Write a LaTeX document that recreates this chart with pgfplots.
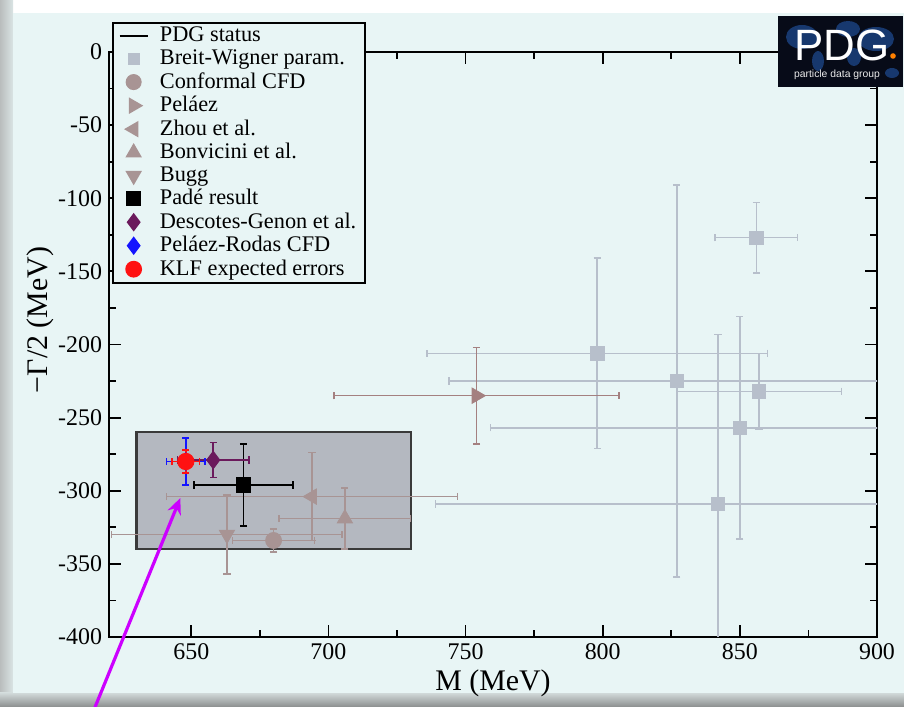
\documentclass[border=0pt]{standalone}
\usepackage{fontspec}
\setmainfont{Liberation Serif}
\newfontfamily\logofont{Liberation Sans}
\usepackage{pgfplots}
\pgfplotsset{compat=1.18}
\usetikzlibrary{arrows.meta}

\definecolor{panel}{HTML}{E8F5F5}
\definecolor{edgegray}{HTML}{B9BDBD}
\definecolor{bwgray}{HTML}{B7BFCB}
\definecolor{mauve}{HTML}{A89494}
\definecolor{rose}{HTML}{A48080}
\definecolor{boxfill}{HTML}{B4B8C0}
\definecolor{boxedge}{HTML}{3A3A3A}
\definecolor{dgpurple}{HTML}{6B1A5C}
\definecolor{prblue}{HTML}{1414FF}
\definecolor{klfred}{HTML}{FF1212}
\definecolor{arrowmag}{HTML}{CC00FF}
\definecolor{logobg}{HTML}{070B18}
\definecolor{logomap}{HTML}{17386E}

\pgfplotsset{
  errpt/.style={only marks, color=#1,
    error bars/x dir=both, error bars/x explicit,
    error bars/y dir=both, error bars/y explicit,
    error bars/error bar style={line width=0.75bp, color=#1},
    error bars/error mark options={rotate=90, line width=0.75bp, mark size=1.8bp, color=#1}},
  mkleg/.style={legend image code/.code={%
    \draw[mark repeat=2, mark phase=2, ##1] plot coordinates {(0bp,0bp)(7bp,0bp)(14bp,0bp)};}},
  lineleg/.style={legend image code/.code={\draw[##1] (0bp,0bp) -- (14bp,0bp);}},
}

\begin{document}
\begin{tikzpicture}
% page frame
\fill[white] (0,0) rectangle (452bp,353.5bp);
\shade[left color=edgegray, right color=panel!70!edgegray] (0,0) rectangle (6.5bp,353bp);
\shade[bottom color=edgegray!75!black, top color=panel!50!edgegray] (0,0) rectangle (452bp,7bp);
\fill[panel] (6.5bp,7bp) rectangle (452bp,347bp);

\begin{axis}[
  at={(54.5bp,35bp)}, anchor=south west,
  scale only axis, width=384bp, height=292.5bp,
  xmin=620, xmax=900, ymin=-400, ymax=0,
  xtick={650,700,...,900}, ytick={-400,-350,...,0},
  minor x tick num=1, minor y tick num=1,
  tick align=inside,
  major tick length=6bp, minor tick length=3.5bp,
  every tick/.style={black, line width=0.9bp},
  axis line style={line width=1.1bp},
  tick label style={font=\fontsize{12}{14}\selectfont},
  /pgf/number format/assume math mode=true,
  xlabel={M (MeV)}, ylabel={−Γ/2 (MeV)},
  label style={font=\fontsize{15}{17}\selectfont},
  xlabel style={at={(axis description cs:0.5,-0.079)}, anchor=center},
  ylabel style={at={(axis description cs:-0.09,0.542)}, anchor=center},
  legend style={at={(0.004,1.0513)}, anchor=north west, draw=black,
    line width=0.8bp, fill=panel, font=\fontsize{11.2}{12}\selectfont,
    inner xsep=3bp, inner ysep=1bp, row sep=0.1bp,
    nodes={inner sep=1.2bp},
    /tikz/every odd column/.append style={column sep=4.5bp}},
  legend cell align=left,
  clip=true,
]
% legend entries
\addlegendimage{lineleg, black, line width=0.8bp}
\addlegendentry{PDG status}
\addlegendimage{mkleg, only marks, mark=square*, mark size=2.6bp, color=bwgray}
\addlegendentry{Breit-Wigner param.}
\addlegendimage{mkleg, only marks, mark=*, mark size=3.6bp, color=mauve}
\addlegendentry{Conformal CFD}
\addlegendimage{mkleg, only marks, mark=triangle*, mark size=4bp, mark options={rotate=-90}, color=mauve}
\addlegendentry{Peláez}
\addlegendimage{mkleg, only marks, mark=triangle*, mark size=4bp, mark options={rotate=90}, color=mauve}
\addlegendentry{Zhou et al.}
\addlegendimage{mkleg, only marks, mark=triangle*, mark size=4bp, color=mauve}
\addlegendentry{Bonvicini et al.}
\addlegendimage{mkleg, only marks, mark=triangle*, mark size=4bp, mark options={rotate=180}, color=mauve}
\addlegendentry{Bugg}
\addlegendimage{mkleg, only marks, mark=square*, mark size=3.3bp, color=black}
\addlegendentry{Padé result}
\addlegendimage{mkleg, only marks, mark=diamond*, mark size=4bp, color=dgpurple}
\addlegendentry{Descotes-Genon et al.}
\addlegendimage{mkleg, only marks, mark=diamond*, mark size=4bp, color=prblue}
\addlegendentry{Peláez-Rodas CFD}
\addlegendimage{mkleg, only marks, mark=*, mark size=3.8bp, color=klfred}
\addlegendentry{KLF expected errors}

% PDG status region
\addplot[forget plot, draw=boxedge, fill=boxfill, line width=1.1bp]
  coordinates {(630,-340) (730,-340) (730,-260) (630,-260)} -- cycle;

% Breit-Wigner parametrizations
\addplot[forget plot, mark=square*, mark size=3.4bp, errpt=bwgray] coordinates {
  (856,-127) +- (15,24)
  (798,-206) +- (62,65)
  (827,-225) +- (83,134)
  (857,-232) +- (30,26)
  (850,-257) +- (91,76)
  (842,-309) +- (103,116)
};

% pole determinations
\addplot[forget plot, mark=triangle*, mark size=4.4bp, mark options={rotate=-90}, errpt=rose]
  coordinates {(754,-235) +- (52,33)};
\addplot[forget plot, mark=triangle*, mark size=4.4bp, mark options={rotate=90}, errpt=mauve]
  coordinates {(694,-304) +- (53,30)};
\addplot[forget plot, mark=triangle*, mark size=4.4bp, errpt=mauve]
  coordinates {(706,-319) +- (24,21)};
\addplot[forget plot, mark=triangle*, mark size=4.4bp, mark options={rotate=180}, errpt=mauve]
  coordinates {(663,-330) +- (42,27)};
\addplot[forget plot, mark=*, mark size=4bp, errpt=mauve]
  coordinates {(680,-334) +- (15,8)};
\addplot[forget plot, mark=square*, mark size=3.6bp, errpt=black]
  coordinates {(669,-296) +- (18,28)};
\addplot[forget plot, mark=diamond*, mark size=4.4bp, errpt=dgpurple]
  coordinates {(658,-279) +- (13,12)};
\addplot[forget plot, mark=diamond*, mark size=4.4bp, errpt=prblue]
  coordinates {(648,-280) +- (7,16)};
\addplot[forget plot, mark=*, mark size=4.1bp, errpt=klfred]
  coordinates {(648,-280) +- (5,8)};

\coordinate (arrowtip) at (axis cs:646,-305);
\coordinate (arrowtail) at (axis cs:614.9,-448);
\end{axis}

\draw[arrowmag, line width=1.6bp, -{Stealth[length=8bp,width=7bp]}] (arrowtail) -- (arrowtip);

% logo
\begin{scope}
\fill[logobg] (389bp,310bp) rectangle (451.5bp,345.5bp);
\begin{scope}
\clip (389bp,310bp) rectangle (451.5bp,345.5bp);
\fill[logomap] (401bp,335bp) ellipse (8bp and 6bp);
\fill[logomap] (409bp,323bp) ellipse (3bp and 5bp);
\fill[logomap] (424bp,339bp) ellipse (6bp and 4bp);
\fill[logomap] (438bp,334bp) ellipse (9bp and 6bp);
\fill[logomap] (427bp,325bp) ellipse (3.5bp and 4.5bp);
\fill[logomap] (446bp,317bp) ellipse (3.5bp and 2.5bp);
\end{scope}
\node[white, font=\logofont\fontsize{22}{22}\selectfont, inner sep=0pt] at (421bp,331bp) {PDG};
\fill[orange] (446.5bp,325.5bp) circle (1.4bp);
\node[white!85!gray, font=\logofont\fontsize{5.2}{5.2}\selectfont, inner sep=0pt] at (418.5bp,316bp) {particle data group};
\end{scope}

\pgfresetboundingbox
\path[use as bounding box] (0,0) rectangle (452bp,353.5bp);
\end{tikzpicture}
\end{document}
